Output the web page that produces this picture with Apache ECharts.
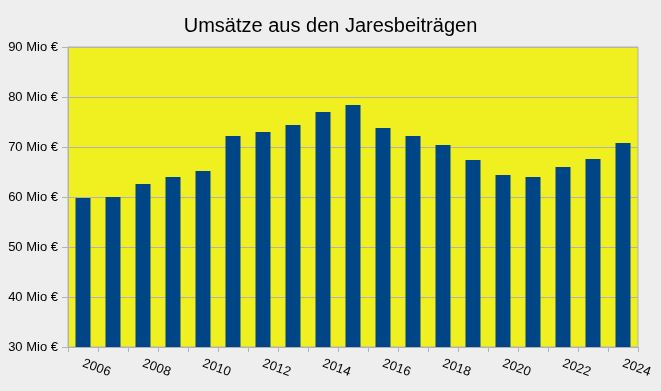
<!DOCTYPE html>
<html>
<head>
<meta charset="utf-8">
<script src="https://cdn.jsdelivr.net/npm/echarts@6/dist/echarts.min.js"></script>
<style>
html,body{margin:0;padding:0;background:#eeeeee;}
#chart{width:661px;height:391px;}
</style>
</head>
<body>
<div id="chart"></div>
<script>
const titleText = 'Umsätze aus den Jaresbeiträgen';
const years = ['2006','2007','2008','2009','2010','2011','2012','2013','2014','2015','2016','2017','2018','2019','2020','2021','2022','2023','2024'];
const revenue = [59.8,60.0,62.6,64.0,65.2,72.2,73.0,74.4,77.0,78.4,73.8,72.2,70.4,67.4,64.4,64.0,66.0,67.6,70.8];
const yMin = 30, yMax = 90, yStep = 10;

const chart = echarts.init(document.getElementById('chart'), null, {renderer:'canvas'});
chart.setOption({
  backgroundColor:'#eeeeee',
  animation:false,
  title:{
    text:titleText, left:'center', top:11,
    textStyle:{fontFamily:'Liberation Sans', fontSize:20, fontWeight:'normal', color:'#000'}
  },
  grid:{
    left:68, right:23, top:47, bottom:44,
    show:true, backgroundColor:'#f0f020', borderColor:'#b3b3b3', borderWidth:1
  },
  xAxis:{
    type:'category', data:years, boundaryGap:true,
    axisLine:{lineStyle:{color:'#b3b3b3', width:1}},
    axisTick:{show:true, interval:0, length:5, lineStyle:{color:'#b3b3b3'}},
    axisLabel:{interval:1, rotate:-20, margin:16, fontFamily:'Liberation Sans', fontSize:13, color:'#000'}
  },
  yAxis:{
    type:'value', min:yMin, max:yMax, interval:yStep,
    axisLine:{show:true, lineStyle:{color:'#b3b3b3', width:1}},
    axisTick:{show:true, length:6, lineStyle:{color:'#b3b3b3'}},
    splitLine:{show:true, lineStyle:{color:'#b3b3b3', width:1}},
    axisLabel:{margin:10, fontFamily:'Liberation Sans', fontSize:13, color:'#000',
      formatter: v => v + ' Mio €'}
  },
  series:[{
    type:'bar', data:revenue, barWidth:'50%',
    itemStyle:{color:'#004586'}
  }]
});
</script>
</body>
</html>
